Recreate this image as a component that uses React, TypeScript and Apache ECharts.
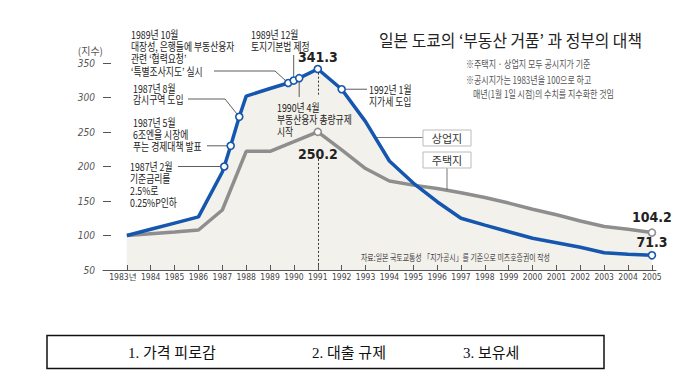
import React, { useEffect, useRef } from "react";
import * as echarts from "echarts";

// ---------- data ----------
const YEARS = [1983, 1984, 1985, 1986, 1987, 1988, 1989, 1990, 1991, 1992, 1993, 1994, 1995, 1996, 1997, 1998, 1999, 2000, 2001, 2002, 2003, 2004, 2005];
// 상업지 (commercial land)
const COMMERCIAL = [100, 109, 118, 127, 192, 302, 313, 324.5, 341.3, 312, 265, 208, 176, 149, 125, 115, 105.5, 96, 89.5, 83, 75, 73, 71.3];
// 주택지 (residential land)
const RESIDENTIAL = [100, 102.5, 105, 108, 137, 222, 222, 236, 250.2, 224, 197, 179, 173, 168, 162, 155, 147, 138, 130, 121, 113, 109, 104.2];
// policy events on the commercial line
const EVENT_X = [1987.08, 1987.35, 1987.71, 1989.76, 1989.99, 1990.22];
const EVENT_V = [200, 230, 272, 321, 324.5, 328];
const Y_TICKS = [50, 100, 150, 200, 250, 300, 350];
const X_LABELS = YEARS.map((y) => (y === 1983 ? "1983년" : String(y)));

const BLUE = "#1556ae";
const GRAY = "#8e8e8e";
const BEIGE = "#f3f1eb";
const CJK = '"Noto Sans CJK KR", sans-serif';
const NARROW = '"Liberation Sans Narrow", "DejaVu Sans Condensed", "Noto Sans CJK KR", sans-serif';

const hollow = (color: string) => ({ color: "#fff", borderColor: color, borderWidth: 1.6 });

function buildBlue(withMarkers: boolean) {
  const pts: { x: number; v: number; ev: boolean }[] = [];
  YEARS.forEach((y, i) => pts.push({ x: y, v: COMMERCIAL[i], ev: false }));
  EVENT_X.forEach((x, i) => pts.push({ x, v: EVENT_V[i], ev: true }));
  pts.sort((a, b) => a.x - b.x);
  return pts.map((p) => {
    if (!withMarkers) return [p.x, p.v];
    const item: any = { value: [p.x, p.v] };
    if (p.ev || p.x === 1991 || p.x === 1992 || p.x === 2005) {
      item.symbol = "circle";
      item.symbolSize = 7;
      item.itemStyle = hollow(BLUE);
    }
    if (p.x === 1991 && !p.ev) item.label = { show: true, position: "top", distance: 1 };
    if (p.x === 2005) item.label = { show: true, position: "top", distance: 2 };
    return item;
  });
}

function buildGray(withMarkers: boolean) {
  return YEARS.map((y, i) => {
    if (!withMarkers) return [y, RESIDENTIAL[i]];
    const item: any = { value: [y, RESIDENTIAL[i]] };
    if (y === 1991 || y === 2005) {
      item.symbol = "circle";
      item.symbolSize = 7;
      item.itemStyle = hollow(GRAY);
    }
    if (y === 1991) item.label = { show: true, position: "bottom", distance: 11 };
    if (y === 2005) item.label = { show: true, position: "top", distance: 4 };
    return item;
  });
}

const valueLabel = {
  show: false,
  formatter: (p: any) => Number(p.value[1]).toFixed(1),
  fontFamily: NARROW,
  fontWeight: "bold" as const,
  fontSize: 14,
  color: "#222",
};

export default function App() {
  const ref = useRef<HTMLDivElement>(null);

  useEffect(() => {
    const el = ref.current!;
    const chart = echarts.init(el, null, { renderer: "svg" });
    chart.setOption({
      animation: false,
      backgroundColor: "#fff",
      grid: { left: 103, right: 44, top: 63, bottom: 110, containLabel: false },
      xAxis: {
        type: "value",
        min: 1982,
        max: 2005.17,
        z: 5,
        splitLine: { show: false },
        axisLine: { show: true, lineStyle: { color: "#555", width: 1 } },
        axisTick: { show: true, inside: true, length: 5, lineStyle: { color: "#555" }, customValues: YEARS },
        axisLabel: {
          customValues: [1982, ...YEARS],
          hideOverlap: false,
          formatter: (v: number) => {
            const i = YEARS.indexOf(Math.round(v));
            if (i < 0) return "";
            return i === 0 ? `{first|${X_LABELS[0]}}` : X_LABELS[i];
          },
          rich: {
            first: { padding: [0, 8, 0, 0], color: "#444", fontSize: 8.5, fontFamily: NARROW },
          },
          color: "#444",
          fontSize: 8.5,
          fontFamily: NARROW,
          margin: 3,
        },
      },
      yAxis: {
        type: "value",
        min: 50,
        max: 350,
        interval: 50,
        z: 5,
        name: "(지수)",
        nameLocation: "end",
        nameGap: 8,
        nameTextStyle: { align: "right", color: "#555", fontSize: 10, fontFamily: CJK },
        splitLine: { show: false },
        axisLine: { show: false },
        axisTick: { show: true, inside: true, length: 8, lineStyle: { color: "#555" } },
        axisLabel: {
          formatter: (v: number) => (Y_TICKS.includes(v) ? String(v) : ""),
          color: "#555",
          fontSize: 10,
          fontStyle: "italic",
          fontFamily: NARROW,
          margin: 8,
        },
      },
      series: [
        {
          type: "line",
          name: "상업지 area",
          data: buildBlue(false),
          symbol: "none",
          silent: true,
          z: 1,
          lineStyle: { width: 0, opacity: 0 },
          areaStyle: { color: BEIGE, opacity: 1 },
        },
        {
          type: "line",
          name: "주택지 area",
          data: buildGray(false),
          symbol: "none",
          silent: true,
          z: 1,
          lineStyle: { width: 0, opacity: 0 },
          areaStyle: { color: BEIGE, opacity: 1 },
        },
        {
          type: "line",
          name: "주택지",
          data: buildGray(true),
          symbol: "none",
          showSymbol: true,
          z: 3,
          lineStyle: { color: GRAY, width: 3.5 },
          itemStyle: { color: GRAY },
          label: valueLabel,
        },
        {
          type: "line",
          name: "상업지",
          data: buildBlue(true),
          symbol: "none",
          showSymbol: true,
          z: 4,
          lineStyle: { color: BLUE, width: 3.5 },
          itemStyle: { color: BLUE },
          label: valueLabel,
          markLine: {
            silent: true,
            symbol: "none",
            label: { show: false },
            lineStyle: { type: [2, 2], color: "#333", width: 1 },
            data: [
              [{ coord: [1991, 336] }, { coord: [1991, 302] }],
              [{ coord: [1991, 211] }, { coord: [1991, 50] }],
            ],
          },
        },
      ],
    });

    const px = (x: number, v: number) => chart.convertToPixel({ gridIndex: 0 }, [x, v]) as number[];
    const ev = EVENT_X.map((x, i) => px(x, EVENT_V[i]));
    const m92 = px(1992, COMMERCIAL[9]);

    const text = (x: number, yFirst: number, lines: string[], opt: any = {}) => {
      const lh = opt.lh ?? 12.3;
      return {
        type: "text",
        x,
        y: yFirst - lh / 2,
        z: 20,
        silent: true,
        scaleX: opt.sx ?? 0.8,
        style: {
          text: lines.join("\n"),
          fill: opt.fill ?? "#222",
          fontSize: opt.size ?? 11,
          fontFamily: opt.family ?? CJK,
          fontWeight: opt.weight ?? "normal",
          lineHeight: lh,
          align: opt.align ?? "left",
          verticalAlign: "top",
        },
      };
    };
    const line = (pts: number[][], color = "#333") => ({
      type: "polyline",
      z: 3.5,
      silent: true,
      shape: { points: pts },
      style: { stroke: color, lineWidth: 0.8, fill: null },
    });

    chart.setOption({
      graphic: [
        // title & notes
        text(379, 40, ["일본 도쿄의 ‘부동산 거품’ 과 정부의 대책"], { size: 16.5, sx: 0.96, lh: 18 }),
        text(466, 64, ["※주택지 · 상업지 모두 공시지가 기준"], { size: 10, sx: 0.8, fill: "#555" }),
        text(466, 80.5, ["※공시지가는 1983년을 100으로 하고"], { size: 10, sx: 0.8, fill: "#555" }),
        text(473, 94, ["매년(1월 1일 시점)의 수치를 지수화한 것임"], { size: 10, sx: 0.8, fill: "#555" }),
        text(361, 256.7, ["자료:일본 국토교통성 「지가공시」를 기준으로 미즈호증권이 작성"], { size: 9, sx: 0.77, fill: "#444" }),
        // annotations
        text(131, 33.7, ["1989년 10월", "대장성, 은행들에 부동산융자", "관련 ‘협력요청’", "‘특별조사지도’ 실시"]),
        text(251, 33.7, ["1989년 12월", "토지기본법 제정"]),
        text(277, 107, ["1990년 4월", "부동산융자 총량규제", "시작"], { lh: 12 }),
        text(133, 87.7, ["1987년 8월", "감시구역 도입"], { lh: 11.5 }),
        text(133, 122, ["1987년 5월", "6조엔을 시장에", "푸는 경제대책 발표"], { lh: 12 }),
        text(130, 166, ["1987년 2월", "기준금리를", "2.5%로", "0.25%P인하"], { lh: 12 }),
        text(369, 89, ["1992년 1월", "지가세 도입"], { lh: 12 }),
        // leaders
        line([[214, 71], [275, 71], ev[3]]),
        line([[ev[4][0], 55], ev[4]]),
        line([ev[5], [ev[5][0], 97]]),
        line([[188, 99], [225, 99], ev[2]]),
        line([[207, ev[1][1]], ev[1]]),
        line([[178, ev[0][1]], ev[0]]),
        line([m92, [367, m92[1]]]),
        // legend boxes
        line([[373, 137.5], [423, 137.5]], "#555"),
        line([[447, 167.5], [447, 190]], "#555"),
        { type: "rect", z: 19, silent: true, shape: { x: 423, y: 130, width: 48, height: 16 }, style: { fill: "#fff", stroke: "#bbb", lineWidth: 1 } },
        { type: "rect", z: 19, silent: true, shape: { x: 423, y: 152, width: 48, height: 16 }, style: { fill: "#fff", stroke: "#bbb", lineWidth: 1 } },
        { type: "text", z: 20, silent: true, x: 447, y: 138, style: { text: "상업지", fill: "#333", fontSize: 11, fontFamily: CJK, align: "center", verticalAlign: "middle" } },
        { type: "text", z: 20, silent: true, x: 447, y: 160, style: { text: "주택지", fill: "#333", fontSize: 11, fontFamily: CJK, align: "center", verticalAlign: "middle" } },
        // bottom box
        { type: "rect", z: 19, silent: true, shape: { x: 47, y: 335.5, width: 557, height: 33 }, style: { fill: "#fff", stroke: "#111", lineWidth: 1.5 } },
        { type: "text", z: 20, silent: true, x: 128, y: 352.5, style: { text: "1. 가격 피로감", fill: "#111", fontSize: 15, fontFamily: '"Liberation Serif", "Noto Sans CJK KR", serif', verticalAlign: "middle" } },
        { type: "text", z: 20, silent: true, x: 312, y: 352.5, style: { text: "2. 대출 규제", fill: "#111", fontSize: 15, fontFamily: '"Liberation Serif", "Noto Sans CJK KR", serif', verticalAlign: "middle" } },
        { type: "text", z: 20, silent: true, x: 463, y: 352.5, style: { text: "3. 보유세", fill: "#111", fontSize: 15, fontFamily: '"Liberation Serif", "Noto Sans CJK KR", serif', verticalAlign: "middle" } },
      ],
    });

    return () => chart.dispose();
  }, []);

  return <div ref={ref} style={{ position: "fixed", left: 0, top: 0, width: 700, height: 380, background: "#fff" }} />;
}
